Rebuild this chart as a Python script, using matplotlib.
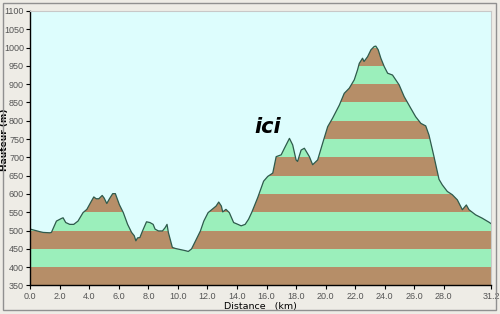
import numpy as np
import matplotlib.pyplot as plt
from matplotlib.patches import Polygon, Rectangle

# --- profile data (km, m) ---
dist_km = [0.0, 0.65, 0.87, 1.32, 1.43, 1.77, 2.1, 2.22, 2.4, 2.67, 2.94, 3.23,
           3.57, 3.83, 4.13, 4.3, 4.46, 4.64, 4.87, 5.0, 5.18, 5.36, 5.58, 5.76,
           6.03, 6.3, 6.59, 6.86, 7.04, 7.15, 7.26, 7.42, 7.6, 7.87, 8.1, 8.32,
           8.45, 8.68, 8.95, 9.13, 9.26, 9.35, 9.62, 9.84, 10.18, 10.52, 10.7,
           10.92, 11.19, 11.52, 11.75, 12.04, 12.31, 12.58, 12.76, 12.94, 13.03,
           13.25, 13.48, 13.77, 14.06, 14.28, 14.55, 14.78, 15.0, 15.4, 15.8,
           16.08, 16.42, 16.65, 16.99, 17.21, 17.55, 17.77, 18.0, 18.1, 18.34,
           18.56, 18.9, 19.12, 19.46, 19.8, 20.14, 20.47, 20.93, 21.26, 21.6,
           21.94, 22.16, 22.28, 22.5, 22.6, 22.84, 23.07, 23.29, 23.4, 23.56,
           23.74, 23.97, 24.2, 24.53, 24.98, 25.32, 25.77, 26.1, 26.45, 26.78,
           27.0, 27.34, 27.68, 27.9, 28.24, 28.58, 28.92, 29.26, 29.53, 29.71,
           30.16, 30.6, 31.1, 31.2]
height_m = [504, 497, 495, 494, 495, 526, 533, 535, 522, 517, 517, 526,
            549, 558, 580, 592, 587, 587, 596, 589, 574, 587, 601, 601,
            571, 549, 517, 495, 486, 472, 480, 481, 499, 524, 522, 517,
            504, 499, 499, 508, 517, 495, 454, 451, 448, 445, 443,
            450, 472, 499, 526, 549, 558, 567, 578, 567, 551,
            558, 549, 522, 517, 513, 517, 531, 550, 590, 635,
            648, 657, 702, 707, 725, 752, 734, 693, 689, 720,
            725, 702, 680, 693, 739, 784, 807, 843, 875, 889,
            912, 939, 957, 971, 962, 975, 994, 1003, 1004, 994,
            971, 948, 930, 925, 898, 866, 834, 811, 793, 786,
            761, 702, 640, 625, 607, 598, 584, 557, 570, 557,
            543, 534, 522, 519]

x_ticks = [0, 2, 4, 6, 8, 10, 12, 14, 16, 18, 20, 22, 24, 26, 28, 31.2]
y_ticks = list(range(350, 1101, 50))

brown = '#b68e68'
green = '#9befbb'
tick_font = ['Liberation Sans Narrow', 'Liberation Sans']

fig = plt.figure(figsize=(5, 3.14), dpi=100, facecolor='#eeece6')
ax = fig.add_axes([0.0606, 0.0908, 0.9214, 0.8742])
ax.set_facecolor('#ddfdfd')

# outline of the ground, used as a clip for the stripes
verts = list(zip(dist_km, height_m)) + [(31.2, 350), (0.0, 350)]
ground = Polygon(verts, closed=True, facecolor='none', edgecolor='none')
ax.add_patch(ground)

for i, lo in enumerate(range(350, 1050, 50)):
    band = ax.axhspan(lo, lo + 50, color=brown if i % 2 == 0 else green, lw=0)
    band.set_clip_path(ground)

ax.plot(dist_km, height_m, color='#2e5a4c', lw=0.9)

ax.set_xlim(0, 31.2)
ax.set_ylim(350, 1100)
ax.set_xticks(x_ticks)
ax.set_xticklabels(['%.1f' % v for v in x_ticks])
ax.set_yticks(y_ticks)
ax.tick_params(labelsize=6.5, labelcolor='#555555', length=3, width=0.8, pad=1.5)
for lab in ax.get_xticklabels() + ax.get_yticklabels():
    lab.set_family(tick_font)

for s in ['top', 'right']:
    ax.spines[s].set_color('#c8c8c8')
    ax.spines[s].set_linewidth(0.8)
for s in ['left', 'bottom']:
    ax.spines[s].set_color('black')
    ax.spines[s].set_linewidth(1.0)

ax.set_ylabel('Hauteur (m)', fontsize=6.5, fontweight='bold')
ax.yaxis.set_label_coords(-0.047, 0.53)
ax.set_xlabel('Distance   (km)', fontsize=6.8, labelpad=1)

ax.text(16.06, 783, 'ici', fontsize=15, fontweight='bold', style='italic',
        ha='center', va='center')

# panel border
fig.patches.append(Rectangle((0.006, 0.012), 0.986, 0.978, transform=fig.transFigure,
                             fill=False, edgecolor='#909090', lw=1.0))

fig.savefig('out.png', dpi=100, facecolor=fig.get_facecolor())
